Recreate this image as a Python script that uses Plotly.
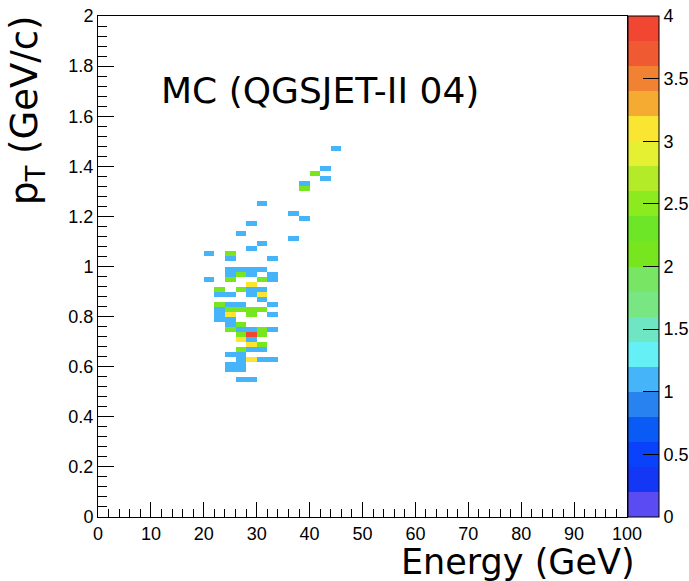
import numpy as np
import plotly.graph_objects as go

# Filled cells of the 2D histogram: bin-centre energy (GeV), bin-centre pT (GeV/c), entries
energy = [45, 43, 41, 43, 39, 39, 31, 37, 39, 29, 27, 37, 31, 29,
          21, 25, 25, 33,
          25, 27, 29, 31,
          25, 27, 29, 33,
          21, 25, 31, 33,
          29,
          23, 27, 29, 31,
          23, 25, 29, 31,
          31,
          23, 25, 27, 33,
          23, 25, 27, 29, 31,
          23, 25, 29, 33,
          23, 25,
          25, 27,
          25, 27, 29, 31, 33,
          27, 29, 31,
          27, 29,
          29, 31,
          27, 29, 31,
          25, 27,
          27, 29, 31, 33,
          25, 27,
          25, 27,
          27, 29]
pt = [1.47, 1.39, 1.37, 1.35, 1.33, 1.31, 1.25, 1.21, 1.19, 1.17, 1.13, 1.11, 1.09, 1.07,
      1.05, 1.05, 1.03, 1.03,
      0.99, 0.99, 0.99, 0.99,
      0.97, 0.97, 0.97, 0.97,
      0.95, 0.95, 0.95, 0.95,
      0.93,
      0.91, 0.91, 0.91, 0.91,
      0.89, 0.89, 0.89, 0.89,
      0.87,
      0.85, 0.85, 0.85, 0.85,
      0.83, 0.83, 0.83, 0.83, 0.83,
      0.81, 0.81, 0.81, 0.81,
      0.79, 0.79,
      0.77, 0.77,
      0.75, 0.75, 0.75, 0.75, 0.75,
      0.73, 0.73, 0.73,
      0.71, 0.71,
      0.69, 0.69,
      0.67, 0.67, 0.67,
      0.65, 0.65,
      0.63, 0.63, 0.63, 0.63,
      0.61, 0.61,
      0.59, 0.59,
      0.55, 0.55]
entries = [1, 1, 2, 1, 1, 2, 1, 1, 1, 1, 1, 1, 1, 1,
           1, 2, 1, 1,
           1, 1, 1, 1,
           1, 2, 1, 1,
           1, 2, 2, 1,
           3,
           2, 2, 1, 1,
           1, 1, 1, 3,
           1,
           2, 1, 1, 1,
           1, 2, 2, 2, 2,
           1, 3, 2, 1,
           1, 1,
           1, 2,
           2, 1, 1, 2, 1,
           2, 4, 2,
           3, 1,
           3, 2,
           2, 1, 1,
           1, 1,
           1, 3, 1, 1,
           1, 1,
           1, 1,
           1, 1]

# Binning: 50 bins in energy (0-100 GeV), 100 bins in pT (0-2 GeV/c)
x_edges = np.linspace(0, 100, 51)
y_edges = np.linspace(0, 2, 101)
hist, _, _ = np.histogram2d(energy, pt, bins=[x_edges, y_edges], weights=entries)
z = hist.T.astype(float)
z[z == 0] = np.nan
x_centres = 0.5 * (x_edges[:-1] + x_edges[1:])
y_centres = 0.5 * (y_edges[:-1] + y_edges[1:])

# 20-level rainbow palette over 0..4
band_colors = [
    "#5a4bf2", "#1437f5", "#0a41fa", "#0a5af5", "#2882f0",
    "#46b4f8", "#64f0f5", "#6ee6c3", "#78e682", "#78e664",
    "#78e61e", "#6ee628", "#8ceb1e", "#b4eb28", "#e6f032",
    "#fae632", "#f5aa32", "#f08232", "#f05a32", "#f04632",
]
n = len(band_colors)
eps = 1e-6
colorscale = []
for i, c in enumerate(band_colors):
    lo = 0.0 if i == 0 else i / n - eps
    hi = 1.0 if i == n - 1 else (i + 1) / n - eps
    colorscale.append([lo, c])
    colorscale.append([hi, c])

tick_font = dict(family="Liberation Sans, Arial, sans-serif", size=18, color="black")
title_font = dict(family="DejaVu Sans, sans-serif", size=35, color="black")

fig = go.Figure(go.Heatmap(
    x=x_centres, y=y_centres, z=z,
    zmin=0, zmax=4,
    colorscale=colorscale,
    hoverongaps=False,
    colorbar=dict(
        x=1.0, xanchor="left", xpad=1,
        y=0.5, yanchor="middle", len=1, lenmode="fraction", ypad=0,
        thickness=31,
        outlinewidth=1, outlinecolor="black",
        tickmode="array",
        tickvals=[0, 0.5, 1, 1.5, 2, 2.5, 3, 3.5, 4],
        ticktext=["0", "0.5", "1", "1.5", "2", "2.5", "3", "3.5", "4"],
        ticks="inside", ticklen=16, tickcolor="black", tickwidth=1,
        tickfont=tick_font,
    ),
))

axis_common = dict(
    showline=True, linecolor="black", linewidth=1, mirror=True,
    ticks="inside", tickcolor="black", tickwidth=1,
    showgrid=False, zeroline=False, tickfont=tick_font,
)
fig.update_xaxes(
    range=[0, 100], tickmode="linear", tick0=0, dtick=10, ticklen=15,
    minor=dict(ticks="inside", ticklen=8, dtick=2, tick0=0, tickcolor="black"),
    **axis_common,
)
fig.update_yaxes(
    range=[0, 2], tickmode="linear", tick0=0, dtick=0.2, ticklen=16,
    tickformat="~g",
    minor=dict(ticks="inside", ticklen=9, dtick=0.04, tick0=0, tickcolor="black"),
    **axis_common,
)

fig.update_layout(
    width=689, height=581,
    margin=dict(l=98, r=62, t=16, b=64, autoexpand=False),
    paper_bgcolor="white", plot_bgcolor="white",
    showlegend=False,
    annotations=[
        dict(text="MC (QGSJET-II 04)", xref="paper", yref="paper",
             x=(159 - 98) / 529, y=(517 - 90) / 501, xanchor="left", yanchor="middle",
             showarrow=False, font=dict(title_font, size=36)),
        dict(text="Energy (GeV)", xref="paper", yref="paper",
             x=(637 - 98) / 529, y=(517 - 562) / 501, xanchor="right", yanchor="middle",
             showarrow=False, font=title_font),
        dict(text="p<sub>T</sub> (GeV/c)", xref="paper", yref="paper",
             x=(27 - 98) / 529, y=(517 - 110) / 501, xanchor="center", yanchor="middle",
             textangle=-90, showarrow=False, font=dict(title_font, size=37)),
    ],
)

fig.write_html("out.html")
